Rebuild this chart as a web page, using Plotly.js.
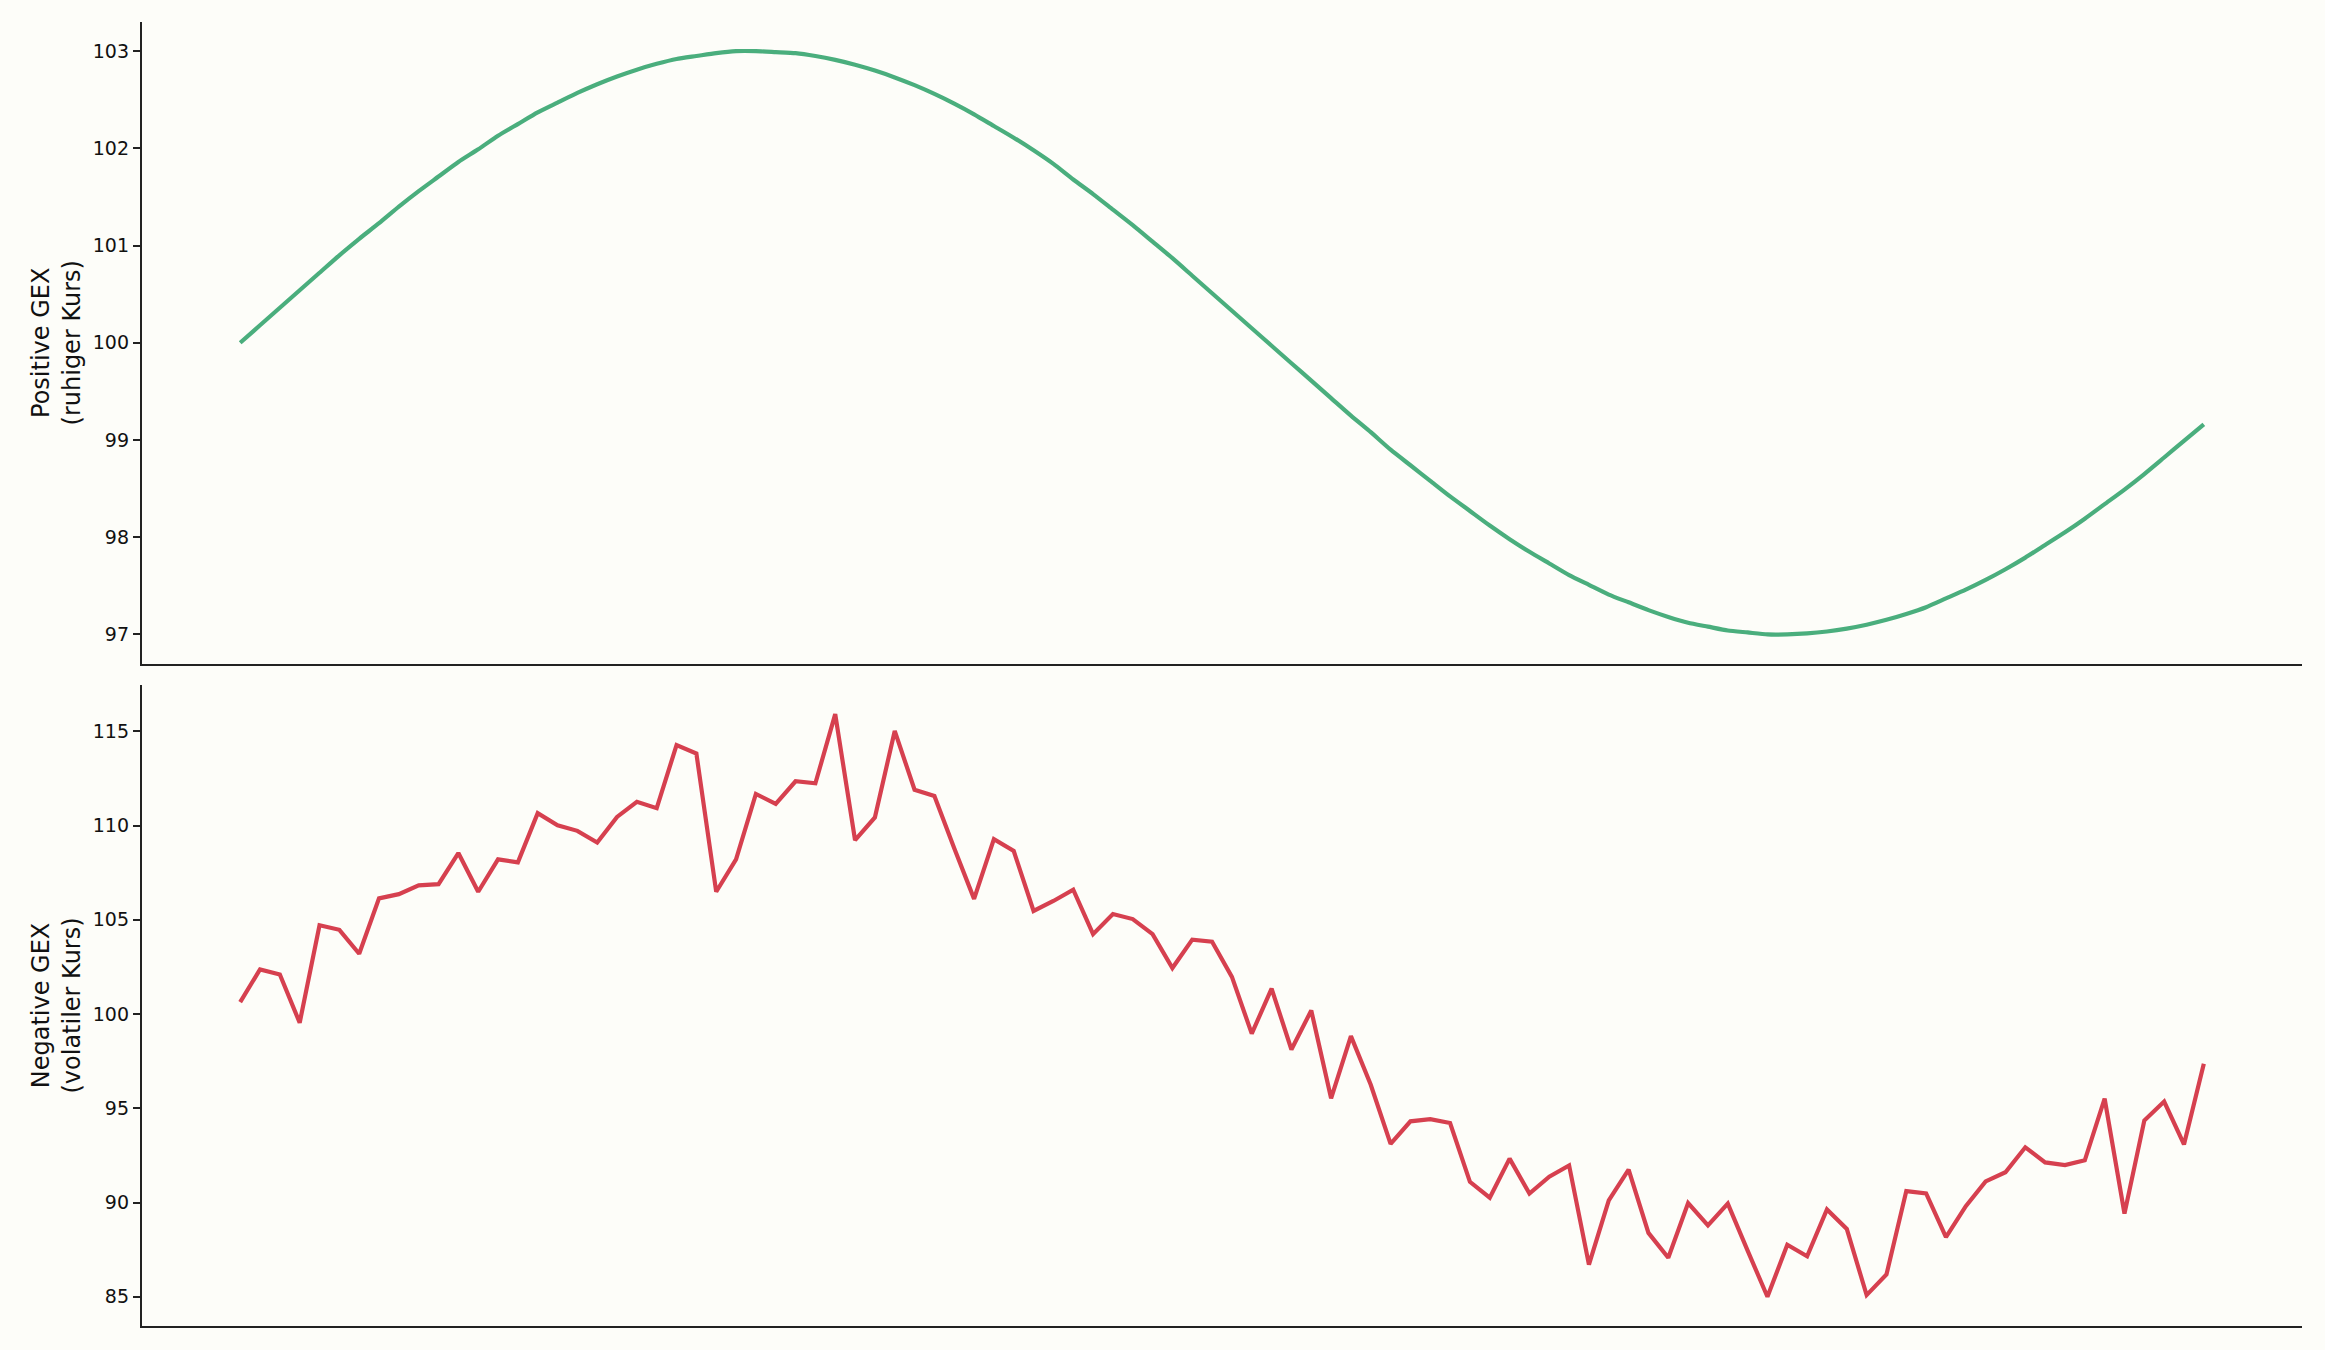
<!DOCTYPE html>
<html>
<head>
<meta charset="utf-8">
<script src="https://cdn.plot.ly/plotly-3.0.1.min.js"></script>
<style>
  html, body { margin: 0; padding: 0; background: #fdfdf9; }
  #chart { width: 2325px; height: 1350px; }
</style>
</head>
<body>
<div id="chart"></div>
<script>
// time steps (no labels on the x axis)
const steps = Array.from({length: 100}, (_, i) => i);

// calm price under positive GEX
const positiveGex = [
  100.00, 100.18, 100.36, 100.54, 100.72, 100.90, 101.07, 101.23, 101.40, 101.56,
  101.71, 101.86, 101.99, 102.13, 102.25, 102.37, 102.47, 102.57, 102.66, 102.74,
  102.81, 102.87, 102.92, 102.95, 102.98, 103.00, 103.00, 102.99, 102.98, 102.95,
  102.91, 102.86, 102.80, 102.73, 102.65, 102.56, 102.46, 102.35, 102.23, 102.11,
  101.98, 101.84, 101.68, 101.53, 101.37, 101.21, 101.04, 100.87, 100.69, 100.51,
  100.33, 100.15, 99.97, 99.79, 99.61, 99.43, 99.25, 99.08, 98.90, 98.74,
  98.58, 98.42, 98.27, 98.12, 97.98, 97.85, 97.73, 97.61, 97.51, 97.41,
  97.33, 97.25, 97.18, 97.12, 97.08, 97.04, 97.02, 97.00, 97.00, 97.01,
  97.03, 97.06, 97.10, 97.15, 97.21, 97.28, 97.37, 97.46, 97.56, 97.67,
  97.79, 97.92, 98.05, 98.19, 98.34, 98.49, 98.65, 98.82, 98.99, 99.16
];

// volatile price under negative GEX
const negativeGex = [
  100.63, 102.37, 102.10, 99.54, 104.71, 104.47, 103.20, 106.14, 106.36, 106.83,
  106.89, 108.54, 106.49, 108.21, 108.05, 110.66, 110.01, 109.72, 109.10, 110.46,
  111.26, 110.92, 114.27, 113.82, 106.49, 108.21, 111.68, 111.15, 112.35, 112.24,
  115.91, 109.23, 110.43, 115.02, 111.90, 111.57, 108.80, 106.11, 109.28, 108.65,
  105.47, 106.00, 106.60, 104.24, 105.31, 105.04, 104.24, 102.44, 103.95, 103.84,
  101.97, 98.96, 101.35, 98.12, 100.19, 95.53, 98.83, 96.25, 93.11, 94.31,
  94.42, 94.22, 91.10, 90.26, 92.33, 90.48, 91.37, 91.97, 86.71, 90.12,
  91.75, 88.39, 87.07, 89.97, 88.79, 89.94, 87.45, 85.00, 87.76, 87.15,
  89.63, 88.60, 85.09, 86.18, 90.61, 90.48, 88.16, 89.81, 91.12, 91.61,
  92.93, 92.13, 91.99, 92.24, 95.51, 89.41, 94.35, 95.36, 93.08, 97.36
];

const topTicks = [97, 98, 99, 100, 101, 102, 103];
const bottomTicks = [85, 90, 95, 100, 105, 110, 115];

const green = '#4aae7d';
const red = '#d6404f';
const ink = '#222222';
const bg = '#fdfdf9';

const traces = [
  { x: steps, y: positiveGex, type: 'scatter', mode: 'lines',
    line: { color: green, width: 4.2, shape: 'spline', smoothing: 0.6 },
    xaxis: 'x', yaxis: 'y', hoverinfo: 'skip' },
  { x: steps, y: negativeGex, type: 'scatter', mode: 'lines',
    line: { color: red, width: 4.2 }, xaxis: 'x2', yaxis: 'y2', hoverinfo: 'skip' }
];

const xBase = {
  range: [-4.95, 103.95], showticklabels: false, ticks: '', showgrid: false,
  zeroline: false, showline: true, linecolor: ink, linewidth: 2.2
};
const yBase = {
  showgrid: false, zeroline: false, showline: true, linecolor: ink, linewidth: 2.2,
  ticks: 'outside', ticklen: 7, tickwidth: 2, tickcolor: ink,
  tickfont: { family: 'DejaVu Sans', size: 19, color: '#111' }
};

const layout = {
  width: 2325, height: 1350,
  paper_bgcolor: bg, plot_bgcolor: bg,
  showlegend: false,
  margin: { l: 142, r: 23, t: 22, b: 24 },
  xaxis: Object.assign({}, xBase, { domain: [0, 1], anchor: 'y' }),
  yaxis: Object.assign({}, yBase, {
    domain: [0.508, 1], anchor: 'x', range: [96.70, 103.30],
    tickvals: topTicks,
    title: { text: 'Positive GEX<br>(ruhiger Kurs)', standoff: 5,
             font: { family: 'DejaVu Sans', size: 24, color: '#111' } }
  }),
  xaxis2: Object.assign({}, xBase, { domain: [0, 1], anchor: 'y2' }),
  yaxis2: Object.assign({}, yBase, {
    domain: [0, 0.4916], anchor: 'x2', range: [83.45, 117.46],
    tickvals: bottomTicks,
    title: { text: 'Negative GEX<br>(volatiler Kurs)', standoff: 5,
             font: { family: 'DejaVu Sans', size: 24, color: '#111' } }
  })
};

Plotly.newPlot('chart', traces, layout, { displayModeBar: false, staticPlot: true });
</script>
</body>
</html>
